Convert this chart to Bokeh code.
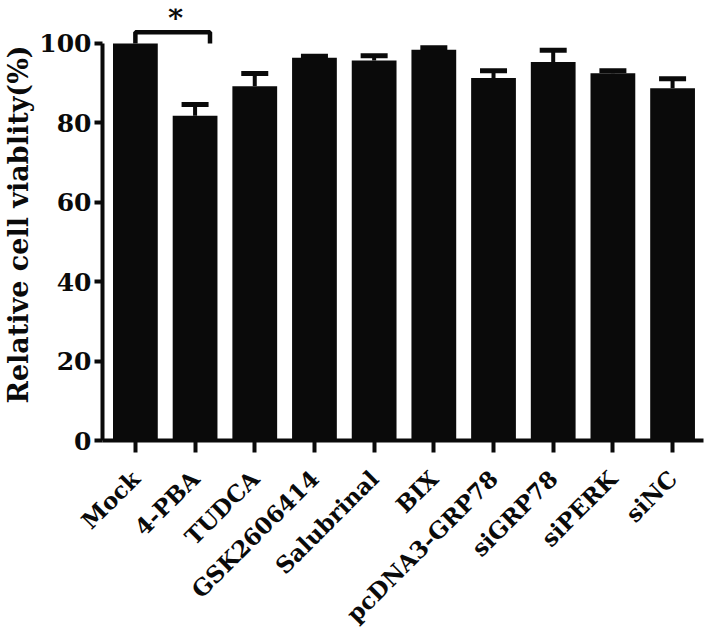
import math
from bokeh.plotting import figure
from bokeh.models import Range1d, FixedTicker, ColumnDataSource, Whisker, TeeHead
from bokeh.embed import file_html
from bokeh.resources import INLINE
from bokeh.core.properties import value

categories = ["Mock", "4-PBA", "TUDCA", "GSK2606414", "Salubrinal", "BIX",
              "pcDNA3-GRP78", "siGRP78", "siPERK", "siNC"]
viability = [100.0, 81.8, 89.2, 96.4, 95.7, 98.4, 91.3, 95.3, 92.5, 88.7]
sem = [0.0, 2.8, 3.2, 0.4, 1.2, 0.5, 1.8, 3.0, 0.6, 2.4]
y_ticks = [0, 20, 40, 60, 80, 100]
y_label = "Relative cell viablity(%)"
sig_mark = "*"

FONT = "DejaVu Serif"
INK = "#0a0a0a"
idx = list(range(len(categories)))

X0, X1 = -0.551, 9.518
p = figure(width=708, height=644, output_backend="svg", toolbar_location=None,
           x_range=Range1d(X0, X1), y_range=Range1d(0, 108.8),
           min_border_left=100, min_border_right=5, min_border_top=8,
           min_border_bottom=204)
p.outline_line_color = None
p.grid.visible = False

src = ColumnDataSource(dict(x=idx, top=viability))
p.vbar(x="x", top="top", bottom=0, width=0.75, source=src,
       fill_color=INK, line_color=None)

ei = [i for i in idx if sem[i] > 0]
esrc = ColumnDataSource(dict(x=ei, lower=[viability[i] for i in ei],
                             upper=[viability[i] + sem[i] for i in ei]))
w = Whisker(base="x", upper="upper", lower="lower", source=esrc,
            line_color=INK, line_width=4,
            upper_head=TeeHead(size=27, line_width=5, line_color=INK),
            lower_head=None)
p.add_layout(w)

# significance bracket between Mock and 4-PBA
by = viability[0] + 2.8
bx = [idx[0], idx[0], idx[1] + 0.25, idx[1] + 0.25]
p.line(x=bx, y=[viability[0], by, by, viability[0]], line_color=INK,
       line_width=4.5)
p.text(x=[(bx[0] + bx[2]) / 2 + 0.05], y=[by + 3.6], text=[sig_mark],
       text_font=value(FONT), text_font_style="bold", text_font_size="29px",
       text_align="center", text_baseline="alphabetic", text_color=INK)

for ax in (p.xaxis, p.yaxis):
    ax.axis_line_width = 4
    ax.axis_line_color = INK
    ax.major_tick_line_width = 4
    ax.major_tick_line_color = INK
    ax.major_tick_in = 0
    ax.minor_tick_out = 0
    ax.minor_tick_in = 0
    ax.major_label_text_font = FONT
    ax.major_label_text_font_style = "bold"
    ax.major_label_text_color = INK

p.xaxis.ticker = FixedTicker(ticks=idx)
p.xaxis.major_label_overrides = {i: c for i, c in enumerate(categories)}
p.xaxis.major_label_orientation = math.pi / 4
p.xaxis.major_label_text_font_size = "23px"
p.xaxis.major_tick_out = 12
p.xaxis.major_label_standoff = 22

p.yaxis.ticker = FixedTicker(ticks=y_ticks)
p.yaxis.bounds = (0, 100)
p.yaxis.major_tick_out = 8
p.yaxis.major_label_standoff = 3
p.yaxis.major_label_text_font_size = "25px"
p.yaxis.axis_label = y_label
p.yaxis.axis_label_text_font = FONT
p.yaxis.axis_label_text_font_style = "bold"
p.yaxis.axis_label_text_font_size = "27px"
p.yaxis.axis_label_text_color = INK
p.yaxis.axis_label_standoff = 2

open("out.html", "w").write(file_html(p, INLINE))
